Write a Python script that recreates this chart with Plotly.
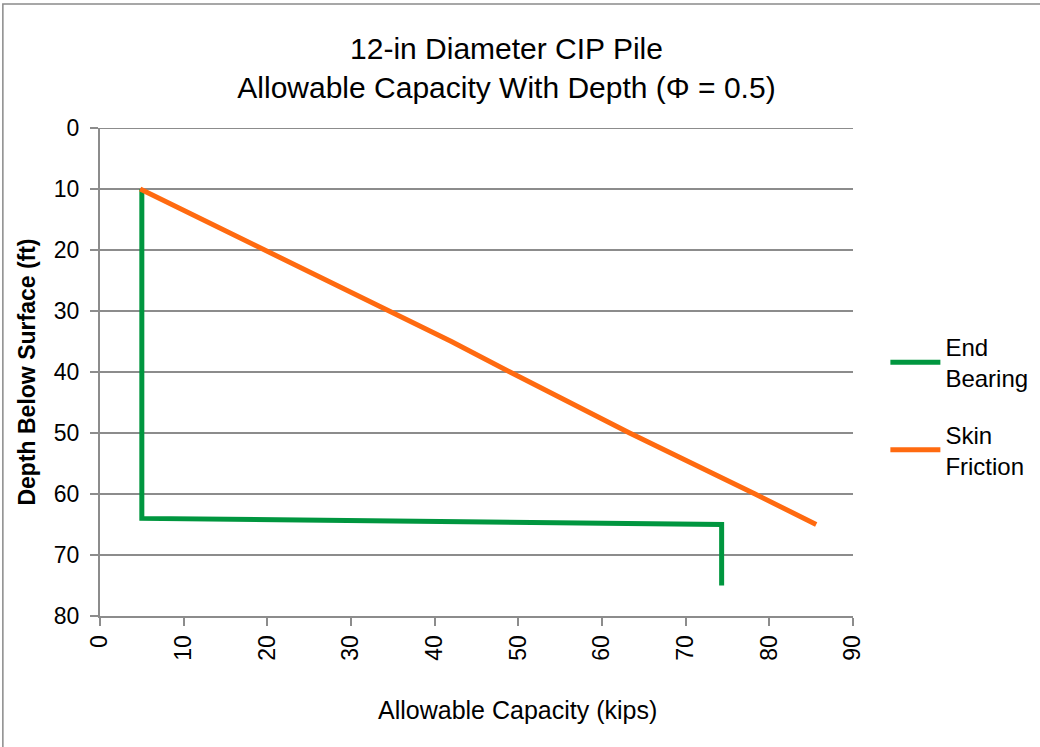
import plotly.graph_objects as go

# Allowable capacity (kips) vs depth below surface (ft)
end_bearing_depth = [10, 64, 65, 75]
end_bearing_kips = [5.0, 5.0, 74.3, 74.3]

skin_friction_depth = [10, 20, 30, 35, 40, 50, 60, 65]
skin_friction_kips = [4.8, 19.7, 34.4, 42.0, 49.0, 63.3, 78.3, 85.6]

x_ticks = [0, 10, 20, 30, 40, 50, 60, 70, 80, 90]
y_ticks = [0, 10, 20, 30, 40, 50, 60, 70, 80]

GRID = "#8c8c8c"
TEXT_FONT = "Liberation Sans Narrow, Arial Narrow, Liberation Sans, sans-serif"
BODY_FONT = "Liberation Sans, Arial, sans-serif"

fig = go.Figure()
fig.add_trace(go.Scatter(
    x=end_bearing_kips, y=end_bearing_depth, mode="lines",
    name="End<br>Bearing", legendgroup="eb",
    line=dict(color="#00963f", width=5),
))
fig.add_trace(go.Scatter(
    x=skin_friction_kips, y=skin_friction_depth, mode="lines",
    name="Skin<br>Friction", legendgroup="sf",
    line=dict(color="#ff6a10", width=5),
))

fig.update_layout(
    width=1040, height=747,
    margin=dict(l=100, r=187, t=128, b=131, autoexpand=False),
    paper_bgcolor="white", plot_bgcolor="white",
    title=dict(
        text="12-in Diameter CIP Pile<br>Allowable Capacity With Depth (\u03a6 = 0.5)",
        x=0.487, xanchor="center", y=0.921, yanchor="middle",
        font=dict(family=TEXT_FONT, size=30, color="black"),
    ),
    xaxis=dict(
        range=[0, 90], tickvals=x_ticks, tickangle=-90,
        showgrid=False, zeroline=False,
        showline=True, linecolor=GRID, linewidth=2,
        ticks="outside", ticklen=8, tickwidth=2, tickcolor=GRID,
        tickfont=dict(family=BODY_FONT, size=23, color="black"),
    ),
    yaxis=dict(
        range=[80, 0], tickvals=y_ticks,
        showgrid=True, gridcolor=GRID, gridwidth=2,
        zeroline=False,
        showline=True, linecolor=GRID, linewidth=2,
        ticks="outside", ticklen=8, tickwidth=2, tickcolor=GRID,
        ticklabelstandoff=6,
        tickfont=dict(family=BODY_FONT, size=23, color="black"),
        title=dict(text="<b>Depth Below Surface (ft)</b>", standoff=12,
                   font=dict(family=TEXT_FONT, size=23, color="black")),
    ),
    legend=dict(
        x=1.043, y=0.43, xanchor="left", yanchor="middle",
        font=dict(family=BODY_FONT, size=24, color="black"),
        tracegroupgap=22, bgcolor="rgba(0,0,0,0)",
        itemwidth=50,
    ),
    showlegend=True,
)

# horizontal axis title
fig.add_annotation(
    text="Allowable Capacity (kips)", xref="paper", yref="paper",
    x=0.554, y=-0.193, xanchor="center", yanchor="middle", showarrow=False,
    font=dict(family=TEXT_FONT, size=25, color="black"),
)

# gridline at the top edge (depth 0)
fig.add_shape(type="line", xref="paper", yref="y",
              x0=0, x1=1, y0=0, y1=0,
              line=dict(color=GRID, width=2), layer="below")

# outer chart frame
fig.add_shape(type="rect", xref="paper", yref="paper",
              x0=-0.129, x1=1.6, y0=-0.6, y1=1.254,
              line=dict(color="#8a8a8a", width=1.5), layer="below")

fig.write_html("out.html")
